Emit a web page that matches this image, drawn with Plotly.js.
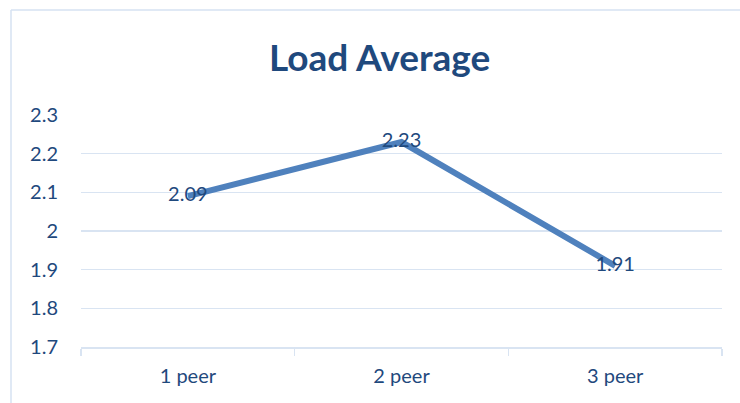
<!DOCTYPE html>
<html>
<head>
<meta charset="utf-8">
<script src="https://cdn.plot.ly/plotly-3.0.1.min.js"></script>
<style>
html,body{margin:0;padding:0;background:#fff;}
#chart{width:740px;height:403px;}
</style>
</head>
<body>
<div id="chart"></div>
<script>
const categories = ["1 peer", "2 peer", "3 peer"];
const loadAverage = [2.09, 2.23, 1.91];
const labels = ["2.09", "2.23", "1.91"];

const textColor = "#1F497D";
const gridColor = "#D9E4F2";
const fontFam = "Lato, 'Open Sans', 'Liberation Sans', sans-serif";

const trace = {
  x: categories,
  y: loadAverage,
  text: labels,
  mode: "lines+text",
  type: "scatter",
  textposition: "middle center",
  textfont: {family: fontFam, size: 20, color: textColor},
  line: {color: "#4F81BD", width: 6},
  hoverinfo: "none",
  cliponaxis: false
};

const W = 740, H = 403, L = 81, R = 18, T = 115, B = 56;
const pw = W - L - R, ph = H - T - B;
const bx = (11 - L)/pw, by = 1 + (T - 10)/ph;

const layout = {
  width: W, height: H,
  margin: {l: L, r: R, t: T, b: B, pad: 0},
  paper_bgcolor: "#fff",
  plot_bgcolor: "#fff",
  showlegend: false,
  title: {
    text: "<b>Load Average</b>",
    font: {family: fontFam, size: 37, color: textColor},
    x: 0.513, xanchor: "center",
    y: 1 - 58/403, yanchor: "middle"
  },
  xaxis: {
    type: "category",
    range: [-0.5, 2.5],
    showgrid: false,
    showline: true,
    linecolor: gridColor,
    linewidth: 1.5,
    ticks: "outside",
    tickson: "boundaries",
    ticklen: 7,
    tickcolor: gridColor,
    tickwidth: 1.5,
    ticklabelstandoff: 10,
    tickfont: {family: fontFam, size: 20, color: textColor},
    zeroline: false,
    fixedrange: true
  },
  yaxis: {
    range: [1.7, 2.3],
    dtick: 0.1,
    tick0: 1.7,
    showgrid: true,
    gridcolor: gridColor,
    gridwidth: 1.5,
    showline: false,
    zeroline: false,
    ticks: "",
    ticklabelstandoff: 22,
    tickfont: {family: fontFam, size: 20, color: textColor},
    fixedrange: true
  },
  shapes: [
    {type: "line", xref: "paper", yref: "paper", x0: bx, x1: (W + 5 - L)/pw, y0: by, y1: by,
     line: {color: "#D6E2F2", width: 1.5}, layer: "below"},
    {type: "line", xref: "paper", yref: "paper", x0: bx, x1: bx, y0: by, y1: -(B + 10)/ph,
     line: {color: "#D6E2F2", width: 1.5}, layer: "below"}
  ]
};

Plotly.newPlot("chart", [trace], layout, {displayModeBar: false, staticPlot: true});
</script>
</body>
</html>
